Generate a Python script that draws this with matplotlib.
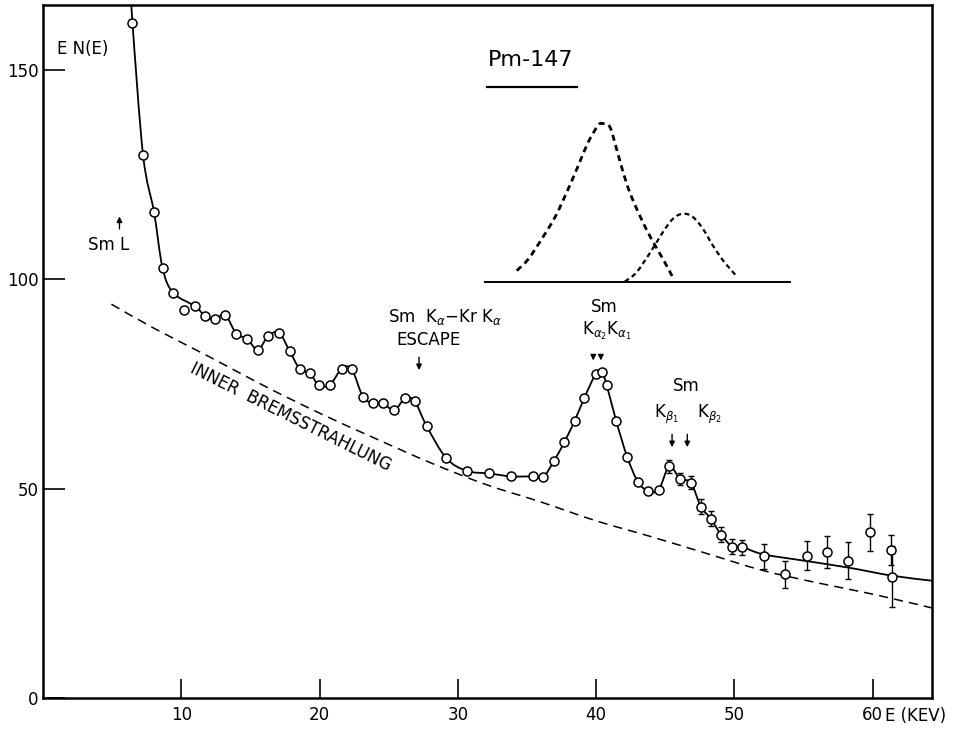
import matplotlib.pyplot as plt
from matplotlib.path import Path
from matplotlib.patches import PathPatch

# Pm-147 spectrum: E (keV) against E*N(E)
energy = [6.47, 7.24, 8.03, 8.65, 9.42, 10.22, 11.01, 11.73, 12.45, 13.17,
          13.99, 14.76, 15.53, 16.29, 17.07, 17.84, 18.58, 19.30, 19.97, 20.76,
          21.61, 22.33, 23.14, 23.88, 24.61, 25.41, 26.20, 26.89, 27.75, 29.18,
          30.67, 32.28, 33.84, 35.43, 36.19, 36.96, 37.71, 38.46, 39.15, 39.99,
          40.43, 40.77, 41.47, 42.26, 43.04, 43.76, 44.52, 45.30, 46.07, 46.86,
          47.58, 48.30, 49.04, 49.87, 50.59, 52.13, 53.64, 55.24, 56.74, 58.25,
          59.84, 61.30, 61.43]
counts = [161.2, 129.5, 116.0, 102.6, 96.7, 92.7, 93.5, 91.1, 90.4, 91.5,
          86.9, 85.8, 83.1, 86.4, 87.2, 82.8, 78.5, 77.5, 74.6, 74.8,
          78.6, 78.5, 71.9, 70.4, 70.3, 68.7, 71.6, 70.8, 64.9, 57.2,
          54.2, 53.6, 52.9, 52.9, 52.8, 56.6, 61.1, 66.2, 71.6, 77.4,
          77.8, 74.7, 66.0, 57.5, 51.5, 49.5, 49.6, 55.3, 52.3, 51.4,
          45.7, 42.8, 39.0, 36.1, 36.0, 33.8, 29.5, 34.0, 34.9, 32.8,
          39.6, 35.4, 29.0]
# statistical errors, given from the Kb peak onward
err_from = 47
count_err = [1.6, 1.5, 1.5, 1.8, 1.8, 1.8, 1.8, 1.8,
             3.0, 3.3, 3.4, 3.8, 4.4, 4.4, 3.6, 7.2]

# smooth curve: top end, measured points (one stray point left out), flat tail
fit_head_e = [6.43]
fit_head_c = [166.0]
fit_tail_e = [52.1, 55.2, 58.3, 61.4, 64.3]
fit_tail_c = [34.3, 32.7, 31.1, 29.2, 28.0]

# inner bremsstrahlung
ib_energy = [4.95, 8, 12, 16, 20, 24, 28, 32, 36, 40, 44, 48, 52, 56, 60, 64.3]
ib_counts = [94.0, 88.3, 81.5, 74.5, 68.0, 62.0, 56.2, 51.0, 46.8, 42.3,
             38.5, 34.5, 30.5, 27.5, 24.8, 21.5]

# resolved K alpha / K beta line shapes (sketch)
ka_e = [34.27, 35.11, 36.08, 37.04, 37.88, 38.72, 39.44, 40.16, 40.48, 41.00,
        41.48, 41.96, 42.44, 43.17, 44.00, 44.84, 45.62]
ka_c = [102.0, 104.8, 109.6, 114.8, 120.7, 127.1, 132.7, 136.7, 137.1, 136.3,
        131.1, 125.5, 120.7, 115.1, 109.6, 104.8, 100.0]
kb_e = [42.08, 42.93, 44.01, 44.84, 45.57, 46.29, 47.01, 47.73, 48.45, 49.29, 50.14]
kb_c = [99.4, 101.6, 106.8, 111.2, 114.4, 115.6, 114.8, 112.0, 108.0, 104.0, 100.8]
sketch_base_e = [32.0, 54.0]
sketch_base_c = [99.4, 99.4]


def smooth_curve(ax, xs, ys, **kw):
    # draw through the points with cubic bezier segments (catmull-rom tangents)
    pts = list(zip(xs, ys))
    n = len(pts)
    verts = [pts[0]]
    codes = [Path.MOVETO]
    for i in range(n - 1):
        p0 = pts[max(i - 1, 0)]
        p1 = pts[i]
        p2 = pts[i + 1]
        p3 = pts[min(i + 2, n - 1)]
        c1 = (p1[0] + (p2[0] - p0[0]) / 6, p1[1] + (p2[1] - p0[1]) / 6)
        c2 = (p2[0] - (p3[0] - p1[0]) / 6, p2[1] - (p3[1] - p1[1]) / 6)
        verts += [c1, c2, p2]
        codes += [Path.CURVE4] * 3
    ax.add_patch(PathPatch(Path(verts, codes), fill=False, **kw))


plt.rcParams['font.family'] = ['DejaVu Sans']

fig = plt.figure(figsize=(9.62, 7.29), dpi=100)
ax = fig.add_axes([0.0447, 0.0425, 0.9241, 0.9506])

fit_e = fit_head_e + energy[:5] + energy[6:55] + fit_tail_e
fit_c = fit_head_c + counts[:5] + counts[6:55] + fit_tail_c
smooth_curve(ax, fit_e, fit_c, edgecolor='k', lw=1.3, zorder=2)
smooth_curve(ax, ib_energy, ib_counts, edgecolor='k', lw=1.1,
             ls=(0, (6, 4)), zorder=2)

ax.errorbar(energy[err_from:], counts[err_from:], yerr=count_err, fmt='none',
            ecolor='k', elinewidth=1.0, capsize=2.5, capthick=1.0, zorder=3)
ax.plot(energy, counts, ls='none', marker='o', ms=6.5, mfc='white',
        mec='k', mew=1.1, zorder=4)

smooth_curve(ax, ka_e, ka_c, edgecolor='k', lw=2.0, ls=(0, (2.2, 1.6)))
smooth_curve(ax, kb_e, kb_c, edgecolor='k', lw=1.6, ls=(0, (2.2, 1.6)))
ax.plot(sketch_base_e, sketch_base_c, color='k', lw=1.4)

ax.set_xlim(0, 64.3)
ax.set_ylim(0, 165.4)
ax.set_xticks([10, 20, 30, 40, 50, 60])
ax.set_yticks([0, 50, 100, 150])
ax.tick_params(axis='x', direction='in', length=14, width=1.2, pad=6, labelsize=12)
ax.tick_params(axis='y', direction='in', length=16, width=1.2, pad=3, labelsize=12)
for s in ax.spines.values():
    s.set_linewidth(1.8)

ax.text(60.9, -2.2, 'E (KEV)', fontsize=12, ha='left', va='top', clip_on=False)
ax.text(1.0, 155.0, 'E N(E)', fontsize=12, ha='left', va='center')

ax.text(35.3, 152.2, 'Pm-147', fontsize=16, ha='center', va='center')
ax.plot([32.1, 38.6], [145.9, 145.9], color='k', lw=1.6)

txt = dict(fontsize=12, ha='center', va='center')
arr = dict(arrowstyle='-|>', color='k', lw=1.0, mutation_scale=8)

ax.text(4.75, 108.1, 'Sm L', **txt)
ax.annotate('', xy=(5.53, 115.6), xytext=(5.53, 111.3), arrowprops=arr)

ax.text(29.1, 90.9, r'Sm  K$_{\alpha}$$-$Kr K$_{\alpha}$', **txt)
ax.text(27.9, 85.4, 'ESCAPE', **txt)
ax.annotate('', xy=(27.2, 77.6), xytext=(27.2, 82.0), arrowprops=arr)

ax.text(40.6, 93.3, 'Sm', **txt)
ax.text(40.8, 87.6, r'K$_{\alpha_2}$K$_{\alpha_1}$', **txt)
ax.annotate('', xy=(39.8, 79.9), xytext=(39.8, 82.6), arrowprops=arr)
ax.annotate('', xy=(40.35, 79.9), xytext=(40.35, 82.6), arrowprops=arr)

ax.text(46.5, 74.4, 'Sm', **txt)
ax.text(45.1, 67.6, r'K$_{\beta_1}$', **txt)
ax.text(48.2, 67.6, r'K$_{\beta_2}$', **txt)
ax.annotate('', xy=(45.5, 59.2), xytext=(45.5, 63.6), arrowprops=arr)
ax.annotate('', xy=(46.6, 59.2), xytext=(46.6, 63.6), arrowprops=arr)

ax.text(17.93, 67.1, 'INNER  BREMSSTRAHLUNG', fontsize=12, rotation=-26.5,
        rotation_mode='anchor', ha='center', va='center')

fig.savefig('out.png', dpi=100)
